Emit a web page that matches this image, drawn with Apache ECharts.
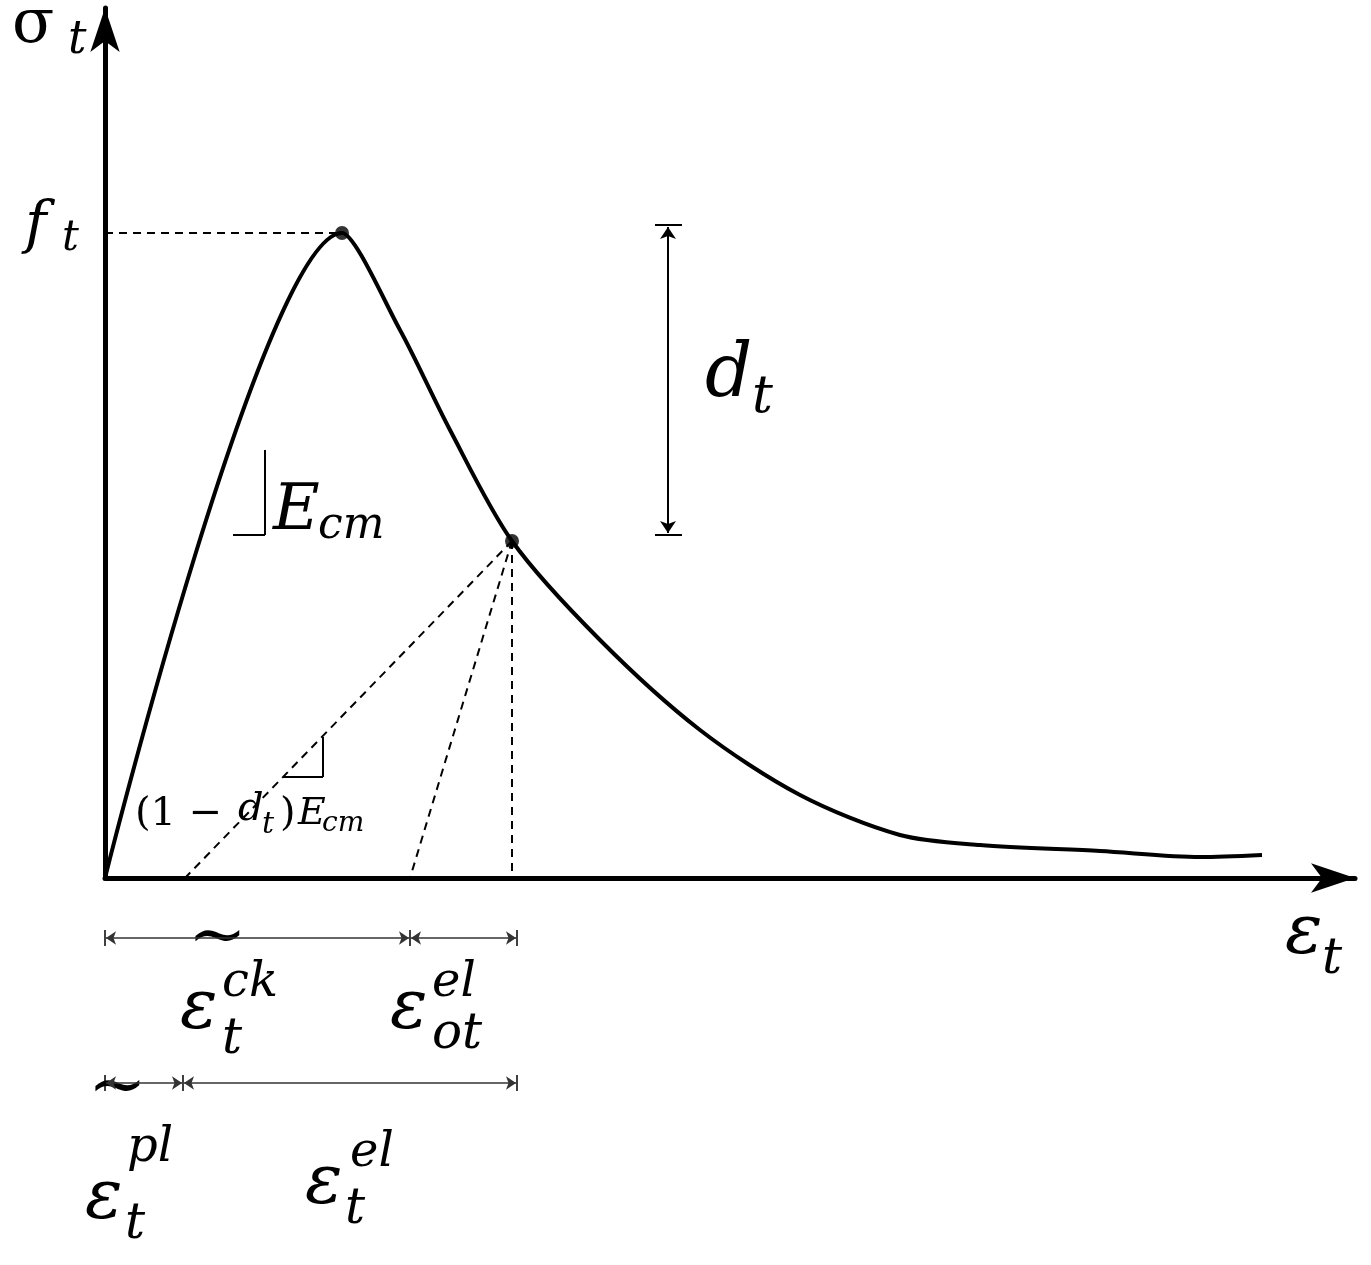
<!DOCTYPE html>
<html>
<head>
<meta charset="utf-8">
<script src="https://cdn.jsdelivr.net/npm/echarts@6/dist/echarts.min.js"></script>
<style>html,body{margin:0;background:#fff}#c{width:1371px;height:1265px}</style>
</head>
<body>
<div id="c"></div>
<script>
// data in pixel-like units: x from origin, y up from axis
var curveX = [0, 237, 295, 345, 407, 495, 595, 695, 795, 875, 995, 1095, 1157];
var curveY = [0, 645, 548, 448, 337, 238, 148, 83, 43, 33, 27, 21, 23];
var peak = [237, 645];
var unload = [407, 337];
var unloadEnds = [80, 305];
var ftLevel = 645;
var dtTop = 653, dtBottom = 343;

var myChart = echarts.init(document.getElementById('c'));
var F = 'DejaVu Serif';
var black = '#000';

function seg(a, b, dashed, w) {
    return {type: 'line', data: [a, b], symbol: 'none', silent: true, clip: false,
        lineStyle: {color: black, width: w || 2, type: dashed ? [8, 6] : 'solid'}};
}
function dim(a, b) {
    return {coords: [a, b]};
}
var series = [
    {type: 'line', data: curveX.map(function (x, i) { return [x, curveY[i]]; }), smooth: 0.3,
        symbol: 'none', lineStyle: {color: black, width: 4}, z: 5},
    {type: 'scatter', data: [peak, unload], symbolSize: 14, itemStyle: {color: black}, z: 6},
    seg([0, ftLevel], [peak[0], ftLevel], true),
    seg(unload, [unload[0], 0], true),
    seg(unload, [unloadEnds[0], 0], true),
    seg(unload, [unloadEnds[1], 0], true),
    seg([160, 428], [160, 343], false, 2),
    seg([128, 343], [160, 343], false, 2),
    seg([218, 141], [218, 101], false, 2),
    seg([178, 101], [218, 101], false, 2),
    seg([550, dtTop], [577, dtTop], false, 2),
    seg([550, dtBottom], [577, dtBottom], false, 2),
    seg([0, -52], [0, -68], false, 1.5),
    seg([305, -52], [305, -68], false, 1.5),
    seg([412, -52], [412, -68], false, 1.5),
    seg([0, -197], [0, -213], false, 1.5),
    seg([78, -197], [78, -213], false, 1.5),
    seg([412, -197], [412, -213], false, 1.5),
    {type: 'lines', coordinateSystem: 'cartesian2d', clip: false, silent: true,
        symbol: ['arrow', 'arrow'], symbolSize: 12,
        lineStyle: {color: black, width: 2, opacity: 1},
        data: [dim([563, dtTop - 2], [563, dtBottom + 2])]},
    {type: 'lines', coordinateSystem: 'cartesian2d', clip: false, silent: true,
        symbol: ['arrow', 'arrow'], symbolSize: 10,
        lineStyle: {color: '#333', width: 1.5, opacity: 1},
        data: [dim([1, -60], [304, -60]), dim([306, -60], [411, -60]),
            dim([1, -205], [77, -205]), dim([79, -205], [411, -205])]}
];

function txt(s, x, y, size, italic) {
    return {type: 'text', left: x, top: y, style: {text: s, fontFamily: F, fontSize: size,
        fontStyle: italic === false ? 'normal' : 'italic', fill: black}};
}
var graphic = [
    txt('σ', 12, -5, 62, false), txt('t', 68, 18, 46),
    txt('f', 25, 198, 58), txt('t', 62, 218, 42),
    txt('d', 705, 340, 74), txt('t', 752, 372, 52),
    txt('E', 273, 480, 64), txt('cm', 318, 505, 44),
    txt('(1 − ', 135, 795, 40, false), txt('d', 238, 790, 40), txt('t', 262, 810, 30),
    txt(')', 280, 795, 40, false), txt('E', 298, 795, 38), txt('cm', 322, 810, 28),
    txt('ε', 1285, 900, 70), txt('t', 1322, 935, 50),
    txt('ε', 180, 975, 70), txt('t', 222, 1015, 50), txt('ck', 222, 960, 48),
    txt('~', 188, 905, 70, false),
    txt('ε', 390, 975, 70), txt('ot', 432, 1010, 50), txt('el', 432, 960, 48),
    txt('ε', 85, 1165, 70), txt('t', 125, 1200, 50), txt('pl', 127, 1125, 48),
    txt('~', 88, 1055, 70, false),
    txt('ε', 305, 1150, 70), txt('t', 345, 1185, 50), txt('el', 350, 1130, 48)
];

myChart.setOption({
    animation: false,
    grid: {left: 105, right: 16, top: 8, bottom: 387},
    xAxis: {type: 'value', min: 0, max: 1250, splitLine: {show: false}, axisTick: {show: false},
        axisLabel: {show: false},
        axisLine: {onZero: false, symbol: ['none', 'arrow'], symbolSize: [22, 44], lineStyle: {color: black, width: 5}}},
    yAxis: {type: 'value', min: 0, max: 870, splitLine: {show: false}, axisTick: {show: false},
        axisLabel: {show: false},
        axisLine: {onZero: false, symbol: ['none', 'arrow'], symbolSize: [22, 44], lineStyle: {color: black, width: 5}}},
    series: series,
    graphic: graphic
});
window.onresize = myChart.resize;
</script>
</body>
</html>
